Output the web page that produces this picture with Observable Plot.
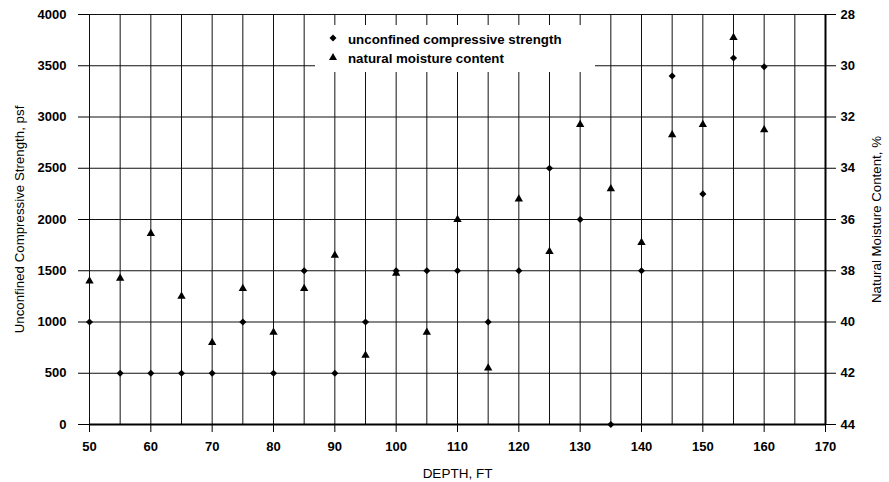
<!DOCTYPE html>
<html>
<head>
<meta charset="utf-8">
<script src="https://cdn.jsdelivr.net/npm/d3@7"></script>
<script src="https://cdn.jsdelivr.net/npm/@observablehq/plot@0.6"></script>
<style>
  html, body { margin: 0; padding: 0; background: #fff; }
  #wrap { position: relative; width: 889px; height: 482px; font-family: "Liberation Sans", Arial, sans-serif; }
  #legend { position: absolute; left: 0; top: 0; pointer-events: none; }
</style>
</head>
<body>
<div id="wrap"></div>
<script>
// ---- data ----
const depth = [50, 55, 60, 65, 70, 75, 80, 85, 90, 95, 100, 105, 110, 115, 120, 125, 130, 135, 140, 145, 150, 155, 160];
const strength = [1000, 500, 500, 500, 500, 1000, 500, 1500, 500, 1000, 1500, 1500, 1500, 1000, 1500, 2500, 2000, 0, 1500, 3400, 2250, 3575, 3490];
const moisture = [38.4, 38.3, 36.55, 39.0, 40.8, 38.7, 40.4, 38.7, 37.4, 41.3, 38.1, 40.4, 36.0, 41.8, 35.2, 37.25, 32.3, 34.8, 36.9, 32.7, 32.3, 28.9, 32.5];
const strengthTicks = [0, 500, 1000, 1500, 2000, 2500, 3000, 3500, 4000];
const moistureTicks = [28, 30, 32, 34, 36, 38, 40, 42, 44];
const depthTicks = [50, 60, 70, 80, 90, 100, 110, 120, 130, 140, 150, 160, 170];
const depthGrid = [50, 55, 60, 65, 70, 75, 80, 85, 90, 95, 100, 105, 110, 115, 120, 125, 130, 135, 140, 145, 150, 155, 160, 165, 170];
const seriesNames = ["unconfined compressive strength", "natural moisture content"];
const xLabel = "DEPTH, FT";
const yLabelLeft = "Unconfined Compressive Strength, psf";
const yLabelRight = "Natural Moisture Content, %";

// moisture axis (28 top .. 44 bottom) mapped onto the strength scale
const mToY = m => (44 - m) * 250;

const strengthData = depth.map((d, i) => ({depth: d, v: strength[i]}));
const moistureData = depth.map((d, i) => ({depth: d, v: moisture[i]}));

const font = "'Liberation Sans', Arial, sans-serif";

const chart = Plot.plot({
  width: 889,
  height: 482,
  marginLeft: 89,
  marginRight: 64,
  marginTop: 14,
  marginBottom: 58,
  x: {domain: [50, 170]},
  y: {domain: [0, 4000]},
  style: {fontFamily: font, background: "#fff", color: "#000"},
  marks: [
    Plot.gridX(depthGrid, {stroke: "#111", strokeOpacity: 1, strokeWidth: 1}),
    Plot.gridY(strengthTicks, {stroke: "#111", strokeOpacity: 1, strokeWidth: 1.2}),
    Plot.ruleY([0], {stroke: "#000", strokeWidth: 2.2}),
    Plot.ruleX([170], {stroke: "#000", strokeWidth: 2}),
    Plot.axisY(strengthTicks, {anchor: "left", tickSize: 11, tickPadding: 12, fontSize: 13, fontWeight: "bold", label: null, tickFormat: d => String(d)}),
    Plot.axisY(moistureTicks.map(mToY), {anchor: "right", tickSize: 10, tickPadding: 5, fontSize: 13, fontWeight: "bold", label: null, tickFormat: v => String(44 - v / 250)}),
    Plot.axisX(depthTicks, {anchor: "bottom", tickSize: 8, tickPadding: 9, fontSize: 13, fontWeight: "bold", label: null, tickFormat: d => String(d)}),
    Plot.text([xLabel], {frameAnchor: "bottom", dy: 49, textAnchor: "middle", lineAnchor: "middle", fontSize: 13.5}),
    Plot.text([yLabelLeft], {frameAnchor: "left", dx: -70, rotate: -90, textAnchor: "middle", lineAnchor: "middle", fontSize: 13.3}),
    Plot.text([yLabelRight], {frameAnchor: "right", dx: 51, rotate: -90, textAnchor: "middle", lineAnchor: "middle", fontSize: 13.3}),
    Plot.dot(moistureData, {x: "depth", y: d => mToY(d.v), symbol: "triangle", r: 3.1, fill: "#000", stroke: "none"}),
    Plot.dot(strengthData, {x: "depth", y: "v", symbol: "diamond2", r: 3.2, fill: "#000", stroke: "none"})
  ]
});

const wrap = document.getElementById("wrap");
wrap.appendChild(chart);

// legend overlay
const NS = "http://www.w3.org/2000/svg";
const leg = document.createElementNS(NS, "svg");
leg.setAttribute("id", "legend");
leg.setAttribute("width", 889);
leg.setAttribute("height", 482);
leg.innerHTML = `
  <rect x="315" y="25" width="280" height="47" fill="#fff"/>
  <path d="M333,34.5 L336.5,38 L333,41.5 L329.5,38 Z" fill="#000"/>
  <path d="M333,53 L337,60 L329,60 Z" fill="#000"/>
  <text x="348" y="43.5" font-family="${font}" font-size="13.3" font-weight="bold">${seriesNames[0]}</text>
  <text x="348" y="62.5" font-family="${font}" font-size="13.3" font-weight="bold">${seriesNames[1]}</text>
`;
wrap.appendChild(leg);
</script>
</body>
</html>
